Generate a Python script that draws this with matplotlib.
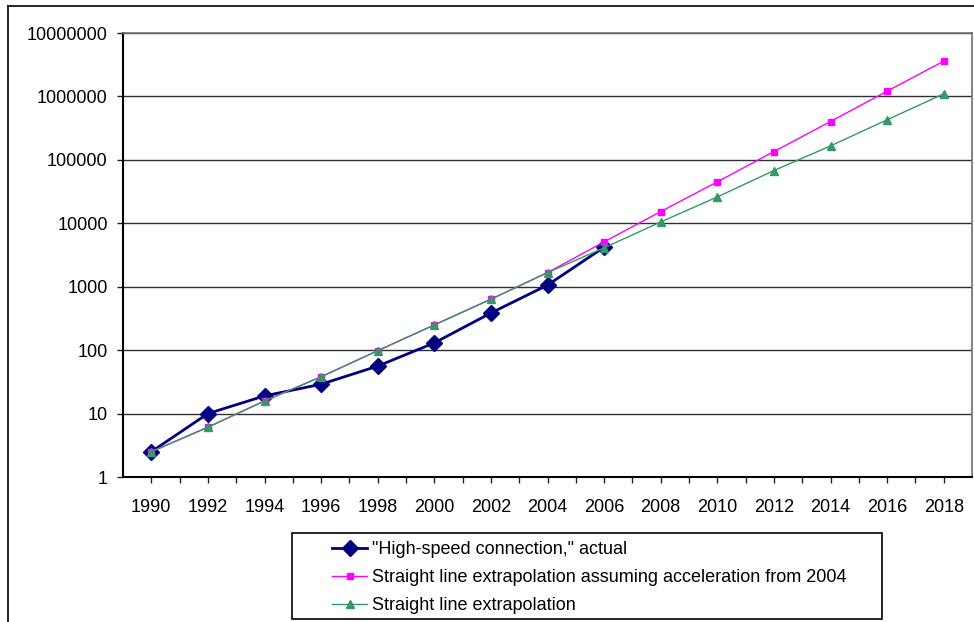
import matplotlib.pyplot as plt
import numpy as np
from matplotlib.lines import Line2D
from matplotlib.patches import Rectangle
from matplotlib.ticker import FixedLocator, NullLocator

plt.rcParams['font.family'] = ['Liberation Sans', 'DejaVu Sans']

# Годы (каждые два года)
years = [1990, 1992, 1994, 1996, 1998, 2000, 2002, 2004,
         2006, 2008, 2010, 2012, 2014, 2016, 2018]

# Фактические значения (до 2006 года)
actual_years = years[:9]
actual = [2.5, 10, 19, 29, 56, 130, 385, 1060, 4200]

# Экстраполяция с ускорением начиная с 2004 года
accel = [2.5, 6.1, 15.8, 38, 98, 250, 635, 1670,
         5100, 15300, 45000, 135000, 402000, 1210000, 3600000]

# Обычная прямолинейная экстраполяция
straight = [2.5, 6.1, 15.8, 38, 98, 250, 635, 1670,
            4100, 10500, 26000, 67800, 166000, 428000, 1100000]

labels = ['"High-speed connection," actual',
          'Straight line extrapolation assuming acceleration from 2004',
          'Straight line extrapolation']

W, H = 974, 622
fig = plt.figure(figsize=(W / 100, H / 100), dpi=100)
ax = fig.add_axes([123 / W, 1 - 477 / H, (972 - 123) / W, (477 - 33) / H])

l1, = ax.plot(actual_years, actual, color='#000080', lw=2.0, marker='D',
              ms=8, mec='#000080', zorder=3)
l2, = ax.plot(years, accel, color='#FF00FF', lw=1.0, marker='s',
              ms=5, mec='#FF00FF', zorder=4)
l3, = ax.plot(years, straight, color='#339966', lw=1.0, marker='^',
              ms=6, mec='#339966', zorder=5)

ax.set_yscale('log')
ax.set_ylim(1, 1e7)
ax.set_xlim(1989, 2019)

yt = [10 ** k for k in range(8)]
ax.yaxis.set_major_locator(FixedLocator(yt))
ax.yaxis.set_minor_locator(NullLocator())
ax.set_yticks(yt, [str(v) for v in yt])
ax.set_xticks(years, [str(y) for y in years])
ax.xaxis.set_minor_locator(FixedLocator(np.arange(1991, 2019, 2)))

ax.grid(axis='y', color='#303030', lw=1.0)
ax.set_axisbelow(True)
ax.tick_params(axis='both', which='both', direction='out', length=4,
               width=1, color='#202020', labelsize=13)
ax.tick_params(axis='x', pad=12)
ax.tick_params(axis='y', pad=7)

for s in ['left', 'bottom']:
    ax.spines[s].set_color('black')
    ax.spines[s].set_linewidth(1.5)
for s in ['top', 'right']:
    ax.spines[s].set_color('#707070')
    ax.spines[s].set_linewidth(1.2)

# Рамка всей диаграммы
fig.add_artist(Line2D([8 / W, 8 / W], [0, 1 - 6 / H], transform=fig.transFigure,
                      color='black', lw=1.2))
fig.add_artist(Line2D([8 / W, 1], [1 - 6 / H, 1 - 6 / H], transform=fig.transFigure,
                      color='black', lw=1.2))

# Рамка легенды
fig.add_artist(Rectangle((292 / W, 1 - 619 / H), (882 - 292) / W, (619 - 533) / H,
                         transform=fig.transFigure, fill=False,
                         edgecolor='black', lw=1.2))
fig.legend([l1, l2, l3], labels, loc='upper left',
           bbox_to_anchor=(332 / W, 1 - 541 / H), frameon=False,
           fontsize=13, handlelength=1.94, handletextpad=0.25,
           borderpad=0, borderaxespad=0, labelspacing=0.62)

plt.savefig('out.png', dpi=100)
